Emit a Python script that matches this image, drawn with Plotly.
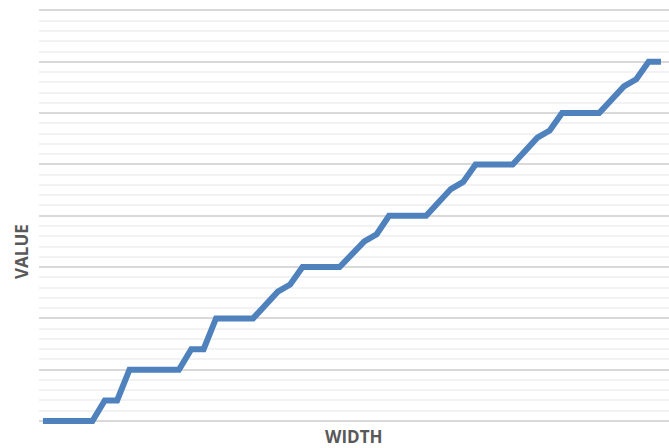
import plotly.graph_objects as go

# Step-wise growth of value against width
width = [0, 4, 5, 6, 7, 11, 12, 13, 14, 17, 19, 20, 21, 24, 26, 27, 28,
         31, 33, 34, 35, 38, 40, 41, 42, 45, 47, 48, 49, 50]
value = [0, 0, 2, 2, 5, 5, 7, 7, 10, 10, 12.6, 13.3, 15, 15, 17.5, 18.2, 20,
         20, 22.6, 23.3, 25, 25, 27.6, 28.3, 30, 30, 32.6, 33.3, 35, 35]

W, H = 669, 448
plot_left, plot_right = 39, 669
plot_top, plot_bottom = 8, 428

fig = go.Figure()
fig.add_trace(go.Scatter(
    x=width, y=value, mode="lines",
    line=dict(color="#4f81bd", width=6),
    hoverinfo="skip", showlegend=False,
))

title_font = dict(family="Open Sans", size=17, color="#595959")

fig.update_layout(
    width=W, height=H,
    margin=dict(l=plot_left, r=W - plot_right, t=plot_top, b=H - plot_bottom, pad=0),
    paper_bgcolor="white", plot_bgcolor="white",
    xaxis=dict(range=[-0.32, 50.65], showgrid=False, zeroline=False,
               showticklabels=False, ticks="", showline=False),
    yaxis=dict(range=[-0.68, 40.24], dtick=5, tick0=0, showgrid=True,
               gridcolor="#d9d9d9", gridwidth=2, zeroline=False,
               showticklabels=False, ticks="", showline=False,
               minor=dict(dtick=1, tick0=0, showgrid=True,
                          gridcolor="#f2f2f2", gridwidth=2)),
    annotations=[
        dict(text="<b>WIDTH</b>", xref="paper", yref="paper",
             x=0.5, y=-(437 - plot_bottom) / (plot_bottom - plot_top),
             xanchor="center", yanchor="middle", showarrow=False, font=title_font),
        dict(text="<b>VALUE</b>", xref="paper", yref="paper",
             x=-(plot_left - 22) / (plot_right - plot_left),
             y=(plot_bottom - 252) / (plot_bottom - plot_top),
             xanchor="center", yanchor="middle", textangle=-90,
             showarrow=False, font=title_font),
    ],
)

fig.write_html("out.html")
